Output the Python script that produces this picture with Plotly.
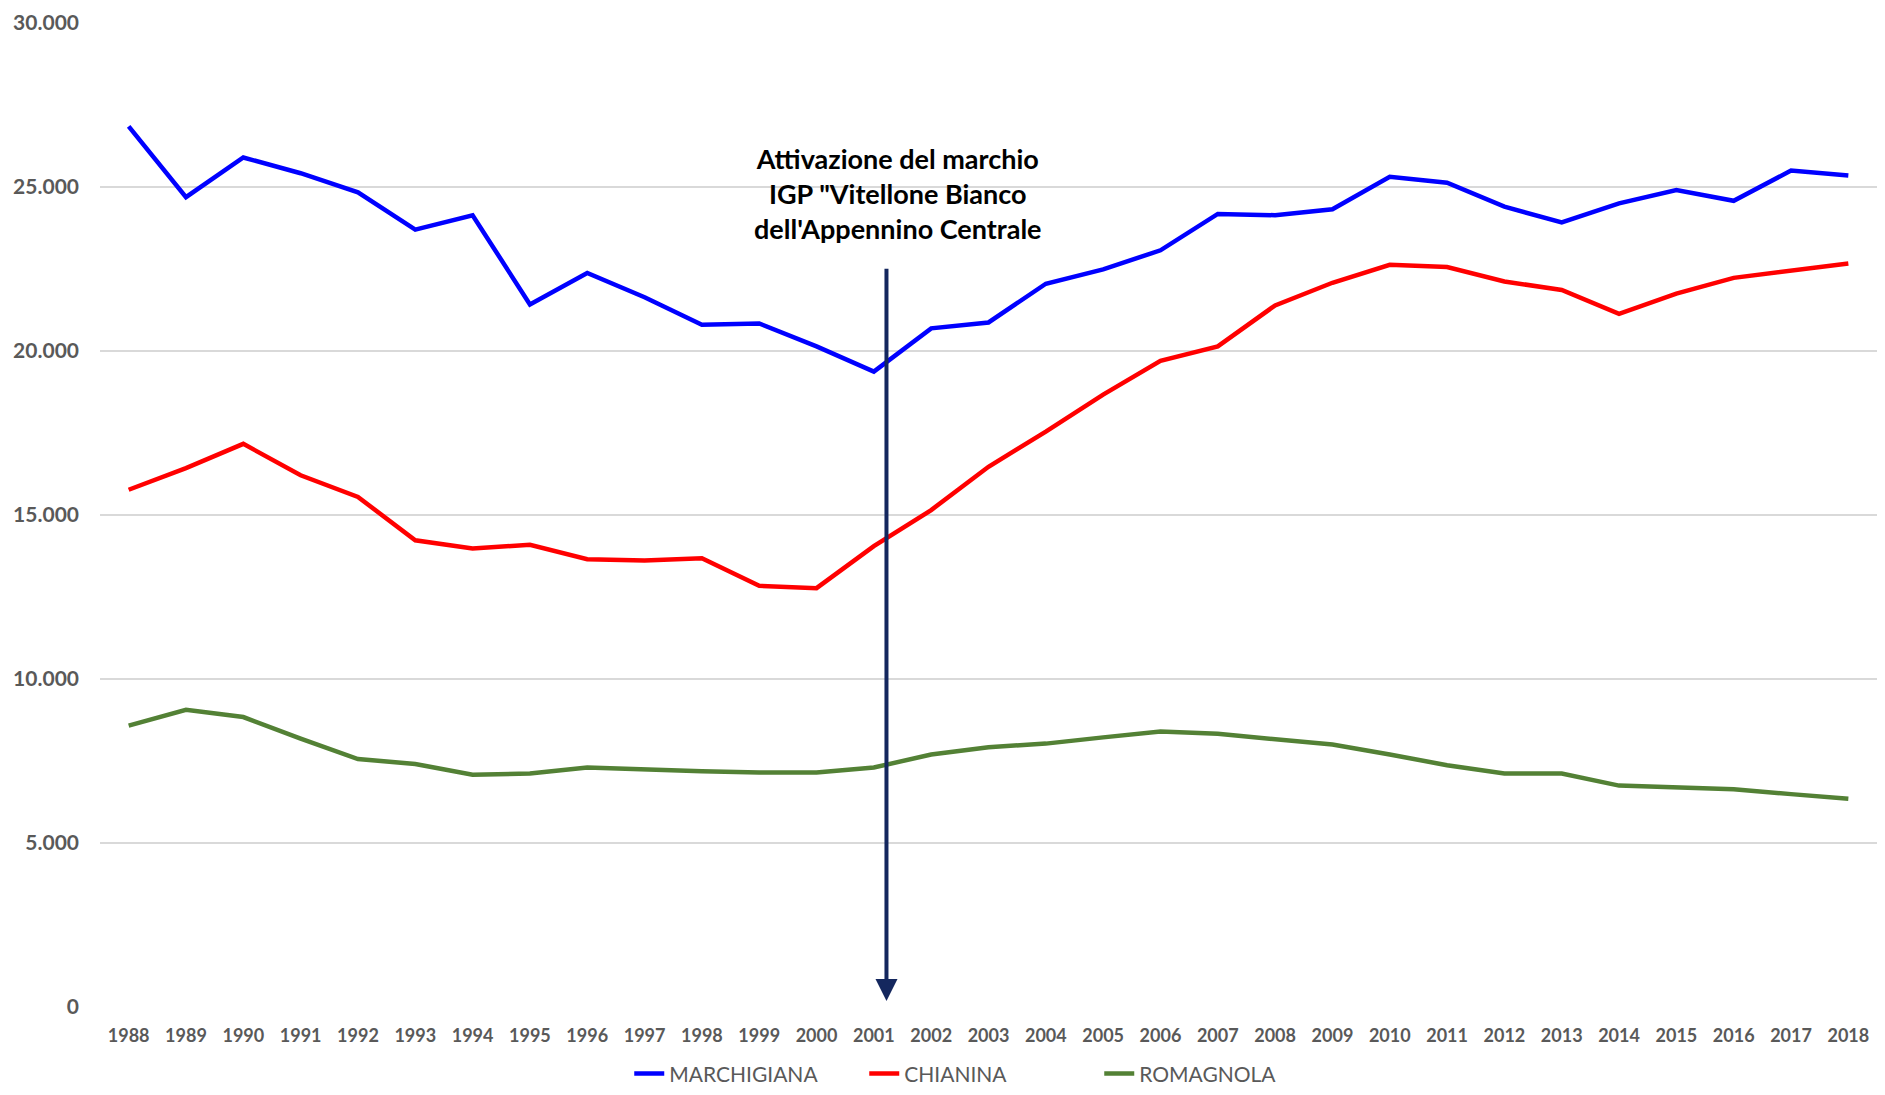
import plotly.graph_objects as go

years = list(range(1988, 2019))

marchigiana = [26850, 24690, 25900, 25420, 24840, 23700, 24140, 21420, 22380, 21640,
               20800, 20840, 20140, 19370, 20690, 20870, 22050, 22490, 23070, 24180,
               24140, 24320, 25310, 25130, 24400, 23920, 24500, 24910, 24580, 25500,
               25350]
chianina = [15770, 16430, 17170, 16210, 15550, 14230, 13980, 14090, 13650, 13610,
            13680, 12840, 12770, 14050, 15150, 16470, 17540, 18670, 19700, 20140,
            21390, 22080, 22630, 22560, 22120, 21860, 21130, 21750, 22230, 22450,
            22670]
romagnola = [8580, 9060, 8840, 8180, 7560, 7410, 7080, 7120, 7300, 7230,
             7190, 7150, 7150, 7300, 7700, 7920, 8030, 8220, 8400, 8330,
             8180, 8000, 7700, 7370, 7120, 7120, 6750, 6710, 6640, 6490,
             6350]

y_ticks = [0, 5000, 10000, 15000, 20000, 25000, 30000]

# posizione della freccia (attivazione IGP, inizio 2001)
arrow_x = 2001.22
arrow_top = 22550
arrow_tip = 180

fig = go.Figure()
fig.add_trace(go.Scatter(x=years, y=marchigiana, mode='lines', name='MARCHIGIANA',
                         line=dict(color='#0000FF', width=4.5)))
fig.add_trace(go.Scatter(x=years, y=chianina, mode='lines', name='CHIANINA',
                         line=dict(color='#FF0000', width=4.5)))
fig.add_trace(go.Scatter(x=years, y=romagnola, mode='lines', name='ROMAGNOLA',
                         line=dict(color='#538135', width=4.5)))

fig.add_annotation(x=arrow_x, y=arrow_tip, ax=arrow_x, ay=arrow_top,
                   xref='x', yref='y', axref='x', ayref='y',
                   text='', showarrow=True, arrowhead=2, arrowsize=1.1,
                   arrowwidth=4, arrowcolor='#14275E')
fig.add_annotation(x=2001.42, y=24800, xref='x', yref='y',
                   text='Attivazione del marchio<br>IGP "Vitellone Bianco<br>dell\'Appennino Centrale',
                   showarrow=False, align='center', xanchor='center', yanchor='middle',
                   font=dict(family='Lato', size=27, color='#000000', weight='bold'))

fig.update_layout(
    width=1869, height=1079,
    margin=dict(l=92, r=0, t=15, b=80, autoexpand=False),
    paper_bgcolor='white', plot_bgcolor='white',
    separators=',.',
    font=dict(family='Lato', color='#595959'),
    showlegend=True,
    legend=dict(orientation='h', xref='container', yref='paper',
                x=0.521, y=-0.068, xanchor='center', yanchor='middle',
                entrywidth=190, entrywidthmode='pixels',
                font=dict(family='Lato', size=21, color='#595959')),
)
fig.update_xaxes(range=[1987.5, 2018.5], tickvals=years, ticktext=[str(y) for y in years],
                 showgrid=False, zeroline=False, showline=False, ticks='',
                 ticklabelstandoff=16, tickangle=0,
                 tickfont=dict(family='Lato', size=18, color='#595959', weight='bold'))
fig.update_yaxes(range=[0, 30000], tickvals=y_ticks, tickformat=',d',
                 showgrid=True, gridcolor='#D9D9D9', gridwidth=1.5,
                 zeroline=False, showline=False, ticks='',
                 ticklabelstandoff=20,
                 tickfont=dict(family='Lato', size=21, color='#595959', weight='bold'))

fig.write_html("out.html")
